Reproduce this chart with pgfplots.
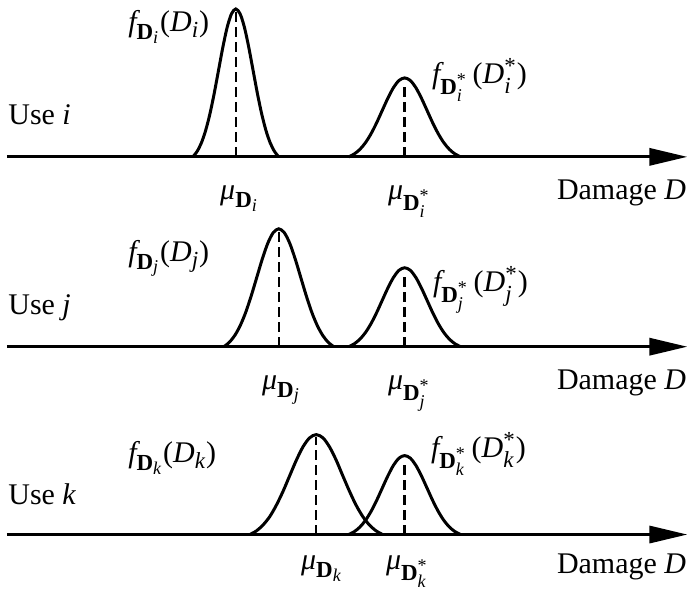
\documentclass[border=0pt]{standalone}
\usepackage{amsmath}
\usepackage{fontspec}
\setmainfont{Liberation Serif}
\usepackage{pgfplots}
\pgfplotsset{compat=1.18}
\usetikzlibrary{arrows.meta}
\DeclareMathSizes{15}{15}{11.5}{9}

% italic / bold letters from the text font inside math
\newcommand{\vi}[1]{\text{\itshape #1}}
\newcommand{\vb}[1]{\text{\upshape\bfseries #1}}
\newcommand{\st}{\text{\upshape *}}
\tikzset{lbl/.style={font=\fontsize{15}{18}\selectfont, inner sep=0pt}}

\begin{document}
\begin{tikzpicture}
\begin{axis}[
    width=344.5pt, height=294.5pt, scale only axis,
    xmin=0, xmax=689, ymin=0, ymax=589,
    hide axis, clip=false,
]
\path (rel axis cs:0,0) rectangle (rel axis cs:1,1);

% axes (damage lines)
\draw[line width=1.6pt, -{Triangle[length=19pt,width=8.5pt]}] (axis cs:7,432) -- (axis cs:688,432);
\draw[line width=1.6pt, -{Triangle[length=19pt,width=8.5pt]}] (axis cs:7,242) -- (axis cs:688,242);
\draw[line width=1.6pt, -{Triangle[length=19pt,width=8.5pt]}] (axis cs:7,54) -- (axis cs:688,54);

% use i
\addplot[black, line width=1.5pt, smooth] coordinates {
(193,432)(197.3,437.5)(201.6,446.1)(205.9,458.7)(210.2,475.5)(214.5,496.1)(218.8,519.1)
(223.1,542.0)(227.4,561.8)(231.7,575.2)(236,580)(240.3,575.2)(244.6,561.8)(248.9,542.0)
(253.2,519.1)(257.5,496.1)(261.8,475.5)(266.1,458.7)(270.4,446.1)(274.7,437.5)(279,432)};
\addplot[black, line width=1.5pt, smooth] coordinates {
(349,432)(354.6,434.9)(360.2,439.5)(365.8,446.2)(371.4,455.2)(377,466.2)(382.6,478.5)
(388.2,490.7)(393.8,501.3)(399.4,508.5)(405,511)(410.6,508.5)(416.2,501.3)(421.8,490.7)
(427.4,478.5)(433,466.2)(438.6,455.2)(444.2,446.2)(449.8,439.5)(455.4,434.9)(461,432)};
\addplot[black, line width=1.2pt, dash pattern=on 5pt off 2.5pt] coordinates {(236,432)(236,579)};
\addplot[black, line width=1.2pt, dash pattern=on 5pt off 2.5pt] coordinates {(405,432)(405,505)};

% use j
\addplot[black, line width=1.5pt, smooth] coordinates {
(224,242)(229.5,246.4)(235,253.3)(240.5,263.3)(246,276.6)(251.5,293.1)(257,311.4)
(262.5,329.7)(268,345.5)(273.5,356.2)(279,360)(284.5,356.2)(290,345.5)(295.5,329.7)
(301,311.4)(306.5,293.1)(312,276.6)(317.5,263.3)(323,253.3)(328.5,246.4)(334,242)};
\addplot[black, line width=1.5pt, smooth] coordinates {
(349,242)(354.6,244.9)(360.2,249.5)(365.8,256.2)(371.4,265.2)(377,276.2)(382.6,288.5)
(388.2,300.7)(393.8,311.3)(399.4,318.5)(405,321)(410.6,318.5)(416.2,311.3)(421.8,300.7)
(427.4,288.5)(433,276.2)(438.6,265.2)(444.2,256.2)(449.8,249.5)(455.4,244.9)(461,242)};
\addplot[black, line width=1.2pt, dash pattern=on 5pt off 2.5pt] coordinates {(279,242)(279,358)};
\addplot[black, line width=1.2pt, dash pattern=on 5pt off 2.5pt] coordinates {(405,242)(405,315)};

% use k
\addplot[black, line width=1.5pt, smooth] coordinates {
(250,54)(256.7,57.7)(263.3,63.6)(270.0,72.0)(276.6,83.4)(283.3,97.3)(289.9,112.8)
(296.6,128.4)(303.2,141.7)(309.9,150.8)(316.5,154)(323.2,150.8)(329.8,141.7)(336.5,128.4)
(343.1,112.8)(349.8,97.3)(356.4,83.4)(363.1,72.0)(369.7,63.6)(376.4,57.7)(383,54)};
\addplot[black, line width=1.5pt, smooth] coordinates {
(349,54)(354.6,56.9)(360.2,61.5)(365.8,68.2)(371.4,77.2)(377,88.2)(382.6,100.5)
(388.2,112.7)(393.8,123.3)(399.4,130.5)(405,133)(410.6,130.5)(416.2,123.3)(421.8,112.7)
(427.4,100.5)(433,88.2)(438.6,77.2)(444.2,68.2)(449.8,61.5)(455.4,56.9)(461,54)};
\addplot[black, line width=1.2pt, dash pattern=on 5pt off 2.5pt] coordinates {(316.5,54)(316.5,152)};
\addplot[black, line width=1.2pt, dash pattern=on 5pt off 2.5pt] coordinates {(405,54)(405,126)};

% labels
\node[lbl, anchor=base west] at (axis cs:8,464) {Use \textit{i}};
\node[lbl, anchor=base west] at (axis cs:8,274) {Use \textit{j}};
\node[lbl, anchor=base west] at (axis cs:8,84) {Use \textit{k}};

\node[lbl, anchor=base east] at (axis cs:687,389) {Damage \textit{D}};
\node[lbl, anchor=base east] at (axis cs:687,199) {Damage \textit{D}};
\node[lbl, anchor=base east] at (axis cs:687,15) {Damage \textit{D}};

\node[lbl, anchor=base west] at (axis cs:220,389) {$\vi{μ}_{\vb{D}_{\vi{i}}}$};
\node[lbl, anchor=base west] at (axis cs:388,389) {$\vi{μ}_{\vb{D}^{\st}_{\vi{i}}}$};
\node[lbl, anchor=base west] at (axis cs:262,199) {$\vi{μ}_{\vb{D}_{\vi{j}}}$};
\node[lbl, anchor=base west] at (axis cs:388,199) {$\vi{μ}_{\vb{D}^{\st}_{\vi{j}}}$};
\node[lbl, anchor=base west] at (axis cs:301,19) {$\vi{μ}_{\vb{D}_{\vi{k}}}$};
\node[lbl, anchor=base west] at (axis cs:386,19) {$\vi{μ}_{\vb{D}^{\st}_{\vi{k}}}$};

\node[lbl, anchor=base west] at (axis cs:128,557) {$\vi{f}_{\vb{D}_{\vi{i}}}\text{(}\vi{D}_{\vi{i}}\text{)}$};
\node[lbl, anchor=base west] at (axis cs:432,505) {$\vi{f}_{\vb{D}^{\st}_{\vi{i}}}\,\text{(}\vi{D}^{\st}_{\vi{i}}\text{)}$};
\node[lbl, anchor=base west] at (axis cs:128,327) {$\vi{f}_{\vb{D}_{\vi{j}}}\text{(}\vi{D}_{\vi{j}}\text{)}$};
\node[lbl, anchor=base west] at (axis cs:433,297) {$\vi{f}_{\vb{D}^{\st}_{\vi{j}}}\,\text{(}\vi{D}^{\st}_{\vi{j}}\text{)}$};
\node[lbl, anchor=base west] at (axis cs:128,126) {$\vi{f}_{\vb{D}_{\vi{k}}}\text{(}\vi{D}_{\vi{k}}\text{)}$};
\node[lbl, anchor=base west] at (axis cs:431,131) {$\vi{f}_{\vb{D}^{\st}_{\vi{k}}}\,\text{(}\vi{D}^{\st}_{\vi{k}}\text{)}$};
\end{axis}
\end{tikzpicture}
\end{document}
